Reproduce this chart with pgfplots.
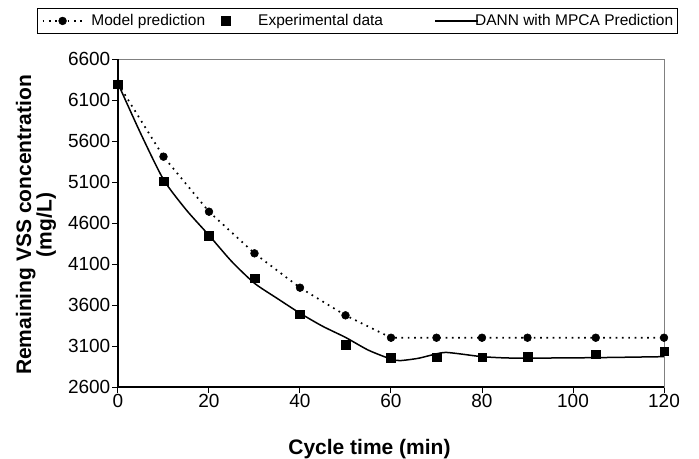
\documentclass[border=0pt]{standalone}
\usepackage{pgfplots}
\pgfplotsset{compat=1.18}
\usepackage{fontspec}
\setmainfont{Liberation Sans}
\pgfplotsset{
  imgA/.style={legend image code/.code={\draw[##1, mark repeat=2, mark phase=2] plot coordinates {(0pt,0pt)(20pt,0pt)(40pt,0pt)};}},
  imgB/.style={legend image code/.code={\path[draw=none] (0pt,0pt) -- (34pt,0pt); \draw[##1] plot coordinates {(10pt,0pt)};}},
  imgC/.style={legend image code/.code={\path[draw=none] (0pt,0pt) -- (73pt,0pt); \draw[##1, overlay] (41pt,0pt) -- (84pt,0pt);}},
}
\begin{document}
\begin{tikzpicture}
\useasboundingbox (-118pt,-71pt) rectangle (581pt,387pt);
\begin{axis}[
  at={(0pt,0pt)}, anchor=south west,
  scale only axis,
  width=546pt, height=328pt,
  xmin=0, xmax=120, ymin=2600, ymax=6600,
  xtick={0,20,40,60,80,100,120},
  ytick={2600,3100,3600,4100,4600,5100,5600,6100,6600},
  xtick pos=left, ytick pos=left,
  tick align=outside,
  major tick length=5.5pt,
  tick style={black, line width=1pt},
  axis line style={gray, line width=0.7pt},
  /pgf/number format/1000 sep={},
  /pgf/number format/assume math mode=true,
  every tick label/.append style={font=\fontsize{19}{21}\selectfont},
  yticklabel style={inner xsep=2pt},
  xticklabel style={inner ysep=2pt},
  xlabel={Cycle time (min)},
  ylabel={Remaining VSS concentration\\(mg/L)},
  xlabel style={font=\fontsize{21}{23}\selectfont\bfseries, at={(axis description cs:0.4606,-0.2073)}, anchor=base, inner sep=0pt},
  ylabel style={font=\fontsize{21}{18.6}\selectfont\bfseries, align=center, at={(axis description cs:-0.1502,0.494)}, anchor=center, inner sep=0pt},
  legend columns=3,
  legend style={at={(axis description cs:0.4386,1.0762)}, anchor=south, draw=black, line width=0.8pt,
    font=\fontsize{15.5}{17}\selectfont, inner xsep=4pt, inner ysep=6pt,
    nodes={inner sep=0pt, text depth=0.21em},
    /tikz/every odd column/.style={column sep=8pt},
    /tikz/every even column/.style={column sep=11pt}},
  legend cell align=left,
  clip=false,
  after end axis/.code={
    \draw[black, line width=1.6pt] (rel axis cs:0,1) -- (rel axis cs:0,0) -- (rel axis cs:1,0);
  },
]
\addplot[black, line width=1.7pt, dash pattern=on 1.7pt off 4.6pt, mark=*, mark size=3.9pt, mark options={solid, line width=0.5pt}, imgA]
coordinates {(0,6300)(10,5409)(20,4738)(30,4230)(40,3811)(50,3474)(60,3201)(70,3201)(80,3201)(90,3201)(105,3201)(120,3201)};
\addlegendentry{Model prediction}
\addplot[black, only marks, mark=square*, mark size=4.3pt, imgB]
coordinates {(0,6295)(10,5108)(20,4446)(30,3925)(40,3490)(50,3116)(60,2960)(70,2962)(80,2962)(90,2966)(105,3002)(120,3039)};
\addlegendentry{Experimental data}
\addplot[black, line width=1.5pt, smooth, tension=0.4, imgC]
coordinates {(0,6300)(5,5690)(10,5130)(15,4760)(20,4450)(25,4130)(30,3865)(35,3680)(40,3500)(45,3340)(50,3205)(55,3050)(60,2940)(62,2922)(66,2950)(70,3005)(72,3022)(75,3005)(80,2970)(85,2955)(90,2952)(105,2958)(120,2970)};
\addlegendentry{DANN with MPCA Prediction}
\end{axis}
\end{tikzpicture}
\end{document}
